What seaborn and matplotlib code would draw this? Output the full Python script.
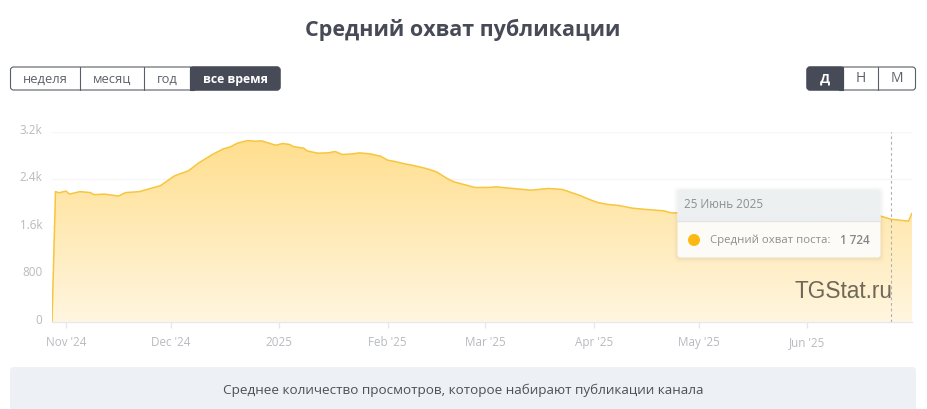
import numpy as np
import pandas as pd
import matplotlib.pyplot as plt
import matplotlib.dates as mdates
from matplotlib.colors import LinearSegmentedColormap
from matplotlib.patches import FancyBboxPatch, Rectangle, Circle
from matplotlib.transforms import ScaledTranslation
import seaborn as sns

dates = [
    "2024-10-28", "2024-10-29", "2024-10-30", "2024-11-01", "2024-11-02", "2024-11-05",
    "2024-11-08", "2024-11-09", "2024-11-12", "2024-11-16", "2024-11-18", "2024-11-22",
    "2024-11-28", "2024-12-02", "2024-12-06", "2024-12-09", "2024-12-13", "2024-12-16",
    "2024-12-18", "2024-12-20", "2024-12-23", "2024-12-25", "2024-12-27", "2024-12-31",
    "2025-01-02", "2025-01-04", "2025-01-05", "2025-01-08", "2025-01-09", "2025-01-12",
    "2025-01-15", "2025-01-17", "2025-01-19", "2025-01-22", "2025-01-24", "2025-01-27",
    "2025-01-30", "2025-02-01", "2025-02-03", "2025-02-06", "2025-02-08", "2025-02-12",
    "2025-02-15", "2025-02-18", "2025-02-20", "2025-02-26", "2025-03-02", "2025-03-04",
    "2025-03-08", "2025-03-11", "2025-03-14", "2025-03-19", "2025-03-23", "2025-03-28",
    "2025-03-30", "2025-04-02", "2025-04-05", "2025-04-08", "2025-04-12", "2025-04-16",
    "2025-04-21", "2025-04-23", "2025-05-01", "2025-05-07", "2025-05-14", "2025-05-21",
    "2025-05-27", "2025-06-03", "2025-06-10", "2025-06-16", "2025-06-22", "2025-06-25",
    "2025-06-30", "2025-07-01",
]
reach = [
    0, 2190, 2170, 2198, 2148, 2190,
    2173, 2138, 2148, 2115, 2173, 2190,
    2290, 2455, 2540, 2675, 2820, 2910,
    2944, 3006, 3051, 3040, 3045, 2972,
    3001, 2984, 2950, 2922, 2876, 2838,
    2843, 2866, 2816, 2826, 2843, 2826,
    2787, 2720, 2698, 2657, 2635, 2580,
    2523, 2411, 2354, 2260, 2260, 2270,
    2248, 2231, 2214, 2243, 2226, 2125,
    2075, 2007, 1974, 1957, 1911, 1889,
    1866, 1832, 1827, 1810, 1810, 1844,
    1869, 1886, 1861, 1819, 1777, 1724,
    1692, 1827,
]
y_ticks = [0, 800, 1600, 2400, 3200]
y_labels = ["0", "800", "1.6k", "2.4k", "3.2k"]
x_ticks = ["2024-11-01", "2024-12-01", "2025-01-01", "2025-02-01", "2025-03-01",
           "2025-04-01", "2025-05-01", "2025-06-01"]
x_labels = ["Nov '24", "Dec '24", "2025", "Feb '25", "Mar '25", "Apr '25", "May '25", "Jun '25"]
range_buttons = ["неделя", "месяц", "год", "все время"]
step_buttons = ["Д", "Н", "М"]

W, H = 927, 409
DARK = "#464b57"
GREY = "#b7babf"

sns.set_theme(style="white")
plt.rcParams["font.family"] = ["Open Sans", "DejaVu Sans"]

df = pd.DataFrame({"date": pd.to_datetime(dates), "reach": reach})

fig = plt.figure(figsize=(W / 100, H / 100), dpi=100, facecolor="white")
ax = fig.add_axes([52 / W, 1 - 321.5 / H, (912 - 52) / W, (321.5 - 131.7) / H])

xs = mdates.date2num(df["date"])
x0, x1 = xs[0], xs[-1]

# gradient under the line
cmap = LinearSegmentedColormap.from_list("fill", ["#fff6e0", "#ffdf8f"])
grad = ax.imshow(np.linspace(0, 1, 256).reshape(-1, 1), origin="lower", aspect="auto",
                 cmap=cmap, extent=[x0, x1, 0, df["reach"].max()], zorder=1)
poly = ax.fill_between(xs, df["reach"], 0, color="none")
grad.set_clip_path(poly.get_paths()[0], transform=ax.transData)

sns.lineplot(x=xs, y=df["reach"], ax=ax, color="#f7c63e", lw=1.1, zorder=3)

ax.set_xlim(x0, x1)
ax.set_ylim(0, 3200)
ax.set_xlabel("")
ax.set_ylabel("")
ax.set_facecolor("white")
for name in ["top", "left", "right"]:
    ax.spines[name].set_visible(False)
ax.spines["bottom"].set_color("#e6e8ec")
ax.spines["bottom"].set_linewidth(1)

ax.set_yticks(y_ticks)
ax.set_yticklabels(y_labels, fontsize=8.4, color=GREY)
ax.set_xticks(mdates.date2num(pd.to_datetime(x_ticks)))
ax.set_xticklabels(x_labels, fontsize=8.4, color=GREY)
ax.tick_params(axis="y", length=0, pad=7)
ax.tick_params(axis="x", length=4, width=1, color="#e6e8ec", pad=6.5, bottom=True)
ax.grid(axis="y", color="#f6f6f6", lw=1)
ax.set_axisbelow(True)

# the site draws y labels a little above their gridlines
for label in ax.get_yticklabels():
    label.set_transform(label.get_transform() + ScaledTranslation(0, 3 / 100, fig.dpi_scale_trans))

cross_x = mdates.date2num(pd.Timestamp("2025-06-25"))
ax.axvline(cross_x, color="#b0b0b0", lw=0.8, ls=(0, (2.5, 2.5)), zorder=4)

# overlay in pixel coords for the page chrome
ui = fig.add_axes([0, 0, 1, 1], zorder=5)
ui.set_xlim(0, W)
ui.set_ylim(H, 0)
ui.axis("off")
ui.patch.set_alpha(0)


def button_row(edges, labels, active, top=67, bottom=90, size=9.3):
    ui.add_patch(FancyBboxPatch((edges[0], top), edges[-1] - edges[0], bottom - top,
                                boxstyle="round,pad=0,rounding_size=3",
                                fc="white", ec="#5a5e68", lw=0.8))
    for i, label in enumerate(labels):
        l, r = edges[i], edges[i + 1]
        if i == active:
            ui.add_patch(FancyBboxPatch((l, top), r - l, bottom - top,
                                        boxstyle="round,pad=0,rounding_size=3",
                                        fc=DARK, ec=DARK, lw=0.8))
            if i > 0:
                ui.add_patch(Rectangle((l, top), 4, bottom - top, fc=DARK, ec=DARK, lw=0.8))
            if i < len(labels) - 1:
                ui.add_patch(Rectangle((r - 4, top), 4, bottom - top, fc=DARK, ec=DARK, lw=0.8))
        elif i > 0 and i - 1 != active:
            ui.plot([l, l], [top, bottom], color="#5a5e68", lw=0.8)
        is_on = i == active
        ui.text((l + r) / 2, (top + bottom) / 2 + 0.5, label, ha="center", va="center",
                fontsize=size - 0.5 if is_on else size,
                color="white" if is_on else "#5d6169",
                fontweight="bold" if is_on else "normal")


ui.text(463, 30, "Средний охват публикации", ha="center", va="center",
        fontsize=15.5, fontweight="bold", color=DARK)

button_row([10.5, 80.5, 144.5, 190.5, 280], range_buttons, 3)
button_row([807, 843.5, 878.5, 915.5], step_buttons, 0, size=10)

ui.text(893, 292, "TGStat.ru", ha="right", va="center", fontsize=16.3,
        family="Liberation Sans", color="#6f6858")

# tooltip
for off, a in [(4, 0.012), (2.5, 0.018), (1, 0.025)]:
    ui.add_patch(FancyBboxPatch((677.5 - off, 189.5 - off + 1), 203 + 2 * off, 68 + 2 * off,
                                boxstyle="round,pad=0,rounding_size=5",
                                fc="black", ec="none", alpha=a))
ui.add_patch(FancyBboxPatch((677.5, 189.5), 203, 68, boxstyle="round,pad=0,rounding_size=3",
                            fc="white", ec="none", alpha=0.9))
ui.add_patch(FancyBboxPatch((677.5, 189.5), 203, 31, boxstyle="round,pad=0,rounding_size=3",
                            fc="#eceff1", ec="none", alpha=0.93))
ui.add_patch(Rectangle((677.5, 215), 203, 6, fc="#eceff1", ec="none", alpha=0.93))
ui.plot([677.5, 880.5], [221, 221], color="#e2e3e4", lw=1)
ui.text(684.5, 205, "25 Июнь 2025", ha="left", va="center", fontsize=8.4, color="#8c8f93")
ui.add_patch(Circle((694, 240), 6, fc="#fdb913", ec="none"))
ui.text(710.5, 240, "Средний охват поста:", ha="left", va="center", fontsize=8.2, color="#8c8f93")
ui.text(869.5, 240, "1 724", ha="right", va="center", fontsize=8.5, fontweight="semibold", color="#85888c")

# note at the bottom
ui.add_patch(FancyBboxPatch((10, 367), 906, 60, boxstyle="round,pad=0,rounding_size=4",
                            fc="#edf0f5", ec="none"))
ui.text(463, 390, "Среднее количество просмотров, которое набирают публикации канала",
        ha="center", va="center", fontsize=9.7, color="#4d5057")

fig.savefig("out.png", dpi=100)
